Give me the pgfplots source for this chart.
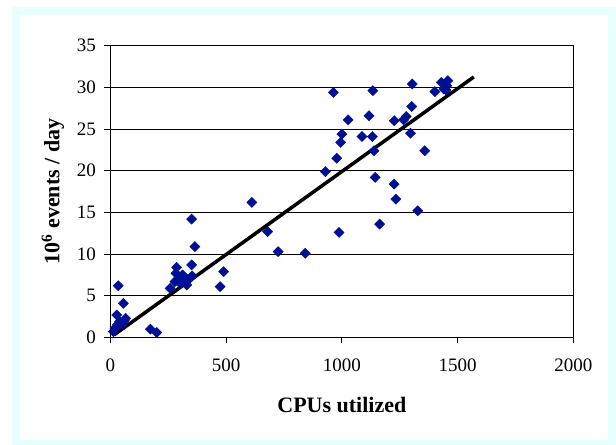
\documentclass[border=0pt]{standalone}
\usepackage{fontspec}
\setmainfont{Liberation Serif}
\usepackage{pgfplots}
\pgfplotsset{compat=1.18}
\definecolor{framecyan}{RGB}{232,255,255}
\definecolor{pts}{RGB}{0,16,148}
\pgfplotstableread{
x y
13 0.7
20 1.1
30 1.5
40 1.9
50 1.6
27 2.7
66 2.3
60 2.0
34 6.2
56 4.1
173 1.0
200 0.6
258 5.9
286 8.4
283 7.7
295 7.1
308 7.3
312 7.5
279 6.7
301 6.5
322 6.7
330 6.3
344 7.1
353 7.4
351 8.7
351 14.2
365 10.9
474 6.1
489 7.9
611 16.2
679 12.7
725 10.3
842 10.1
929 19.9
963 29.4
978 21.5
988 12.6
995 23.4
1000 24.4
1027 26.1
1087 24.1
1117 26.6
1132 24.1
1134 29.6
1139 22.4
1144 19.2
1163 13.6
1226 18.4
1226 26.0
1233 16.6
1267 26.1
1278 26.5
1297 24.5
1302 27.7
1304 30.4
1328 15.2
1358 22.4
1402 29.5
1430 30.6
1441 29.8
1450 29.7
1453 30.2
1458 30.8
}\pts
\begin{document}
\begin{tikzpicture}
\path[use as bounding box] (0bp,0bp) rectangle (616bp,445bp);
\fill[white] (0bp,0bp) rectangle (616bp,445bp);
\fill[framecyan] (12bp,0bp) rectangle (616bp,438bp);
\fill[white] (20bp,5bp) rectangle (608bp,430bp);
\begin{axis}[
  at={(110.4bp,107.5bp)}, anchor=south west,
  scale only axis, width=462.9bp, height=291.8bp,
  xmin=0, xmax=2000, ymin=0, ymax=35,
  xtick={0,500,1000,1500,2000}, ytick={0,5,10,15,20,25,30,35},
  ymajorgrids, grid style={black, line width=0.8bp},
  axis line style={line width=0.9bp},
  tick align=outside, major tick length=6bp, tick pos=left,
  tick style={black, line width=0.9bp},
  ticklabel style={font=\fontsize{19bp}{22bp}\selectfont},
  xticklabel style={yshift=-12bp},
  yticklabel style={xshift=-5bp},
  /pgf/number format/assume math mode=true,
  /pgf/number format/1000 sep={},
  xlabel={CPUs utilized},
  ylabel={10\textsuperscript{6} events / day},
  every axis x label/.style={at={(axis description cs:0.5,-0.2313)}, anchor=center, font=\fontsize{22bp}{26bp}\selectfont\bfseries},
  every axis y label/.style={at={(axis description cs:-0.124,0.5)}, rotate=90, anchor=center, font=\fontsize{22bp}{26bp}\selectfont\bfseries},
  clip=false,
]
\addplot[only marks, mark=square*, mark size=3.6bp, mark options={rotate=45, fill=pts, draw=pts}] table {\pts};
\addplot[black, line width=3.5bp, no marks] coordinates {(15,0.3) (1570,31.25)};
\end{axis}
\end{tikzpicture}
\end{document}
